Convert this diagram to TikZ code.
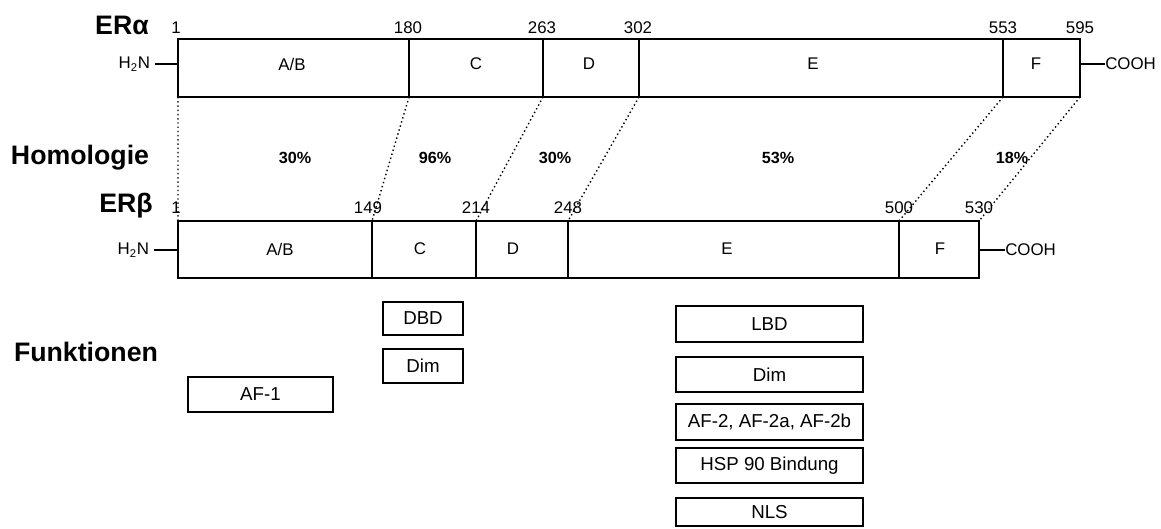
\documentclass[tikz,border=0pt]{standalone}
\usepackage{fontspec}
\setmainfont{Liberation Sans}
\setsansfont{Liberation Sans}
\usetikzlibrary{arrows.meta}
\definecolor{Ink}{HTML}{000000}
\tikzset{
  bar/.style={draw=Ink,line width=1.4pt},
  funcbox/.style={draw=Ink,line width=1.1pt,inner sep=0pt,font=\fontsize{13.3}{15}\selectfont},
  pct/.style={font=\bfseries\fontsize{11.5}{13}\selectfont},
  rowlabel/.style={font=\bfseries\fontsize{19}{22}\selectfont},
  homol/.style={Ink,dotted,line width=1pt}
}

\begin{document}
\begin{tikzpicture}[x=0.025cm,y=-0.025cm,>=Latex,every node/.style={text=Ink,font=\fontsize{12}{14}\selectfont}]
\useasboundingbox[fill=white] (0,0) rectangle (1161,528);
\node[rowlabel] (era) at (122,25){ERα};
\node[rowlabel] (erb) at (126,206){ERβ};
\node[rowlabel] (homologie) at (80,158){Homologie};
\node[rowlabel] (funktionen) at (86,352){Funktionen};
\coordinate (a0) at (178,97);\coordinate (a1) at (409,97);\coordinate (a2) at (543,97);
\coordinate (a3) at (639,97);\coordinate (a4) at (1003,97);\coordinate (a5) at (1080,97);
\coordinate (b0) at (178,221);\coordinate (b1) at (372,221);\coordinate (b2) at (476,221);
\coordinate (b3) at (568,221);\coordinate (b4) at (899,221);\coordinate (b5) at (979,221);
\draw[bar] (178,39) rectangle (a5);
\draw[bar] (a1)--++(0,-58) (a2)--++(0,-58) (a3)--++(0,-58) (a4)--++(0,-58);
\draw[bar] (b0) rectangle (979,278);
\draw[bar] (b1)--++(0,57) (b2)--++(0,57) (b3)--++(0,57) (b4)--++(0,57);
\node (na0) at (176,28){1};\node (na1) at (408,28){180};\node (na2) at (542,28){263};
\node (na3) at (638,28){302};\node (na4) at (1003,28){553};\node (na5) at (1080,28){595};
\node (nb0) at (176,208){1};\node (nb1) at (368,208){149};\node (nb2) at (476,208){214};
\node (nb3) at (568,208){248};\node (nb4) at (899,208){500};\node (nb5) at (979,208){530};
\node (aab) at (292,64){A/B};\node (ac) at (476,64){C};\node (ad) at (589,64){D};
\node (ae) at (813,64){E};\node (af) at (1036,64){F};
\node (bab) at (280,249){A/B};\node (bc) at (420,249){C};\node (bd) at (513,249){D};
\node (be) at (727,249){E};\node (bf) at (940,249){F};
\node[anchor=east] (hna) at (155,64){H\textsubscript{2}N};
\node[anchor=east] (hnb) at (154,250){H\textsubscript{2}N};
\node[anchor=west,inner sep=0pt] (cooha) at (1105,64){COOH};
\node[anchor=west,inner sep=0pt] (coohb) at (1005,250){COOH};
\coordinate (hna-end) at (178,64);\coordinate (hnb-end) at (178,250);
\coordinate (cooha-start) at (1080,64);\coordinate (coohb-start) at (979,250);
\draw[Ink,line width=1.4pt] (hna.east)--(hna-end) (hnb.east)--(hnb-end);
\draw[Ink,line width=1.4pt] (cooha-start)--(cooha.west) (coohb-start)--(coohb.west);
\draw[homol] (a0)--(b0) (a1)--(b1) (a2)--(b2) (a3)--(b3) (a4)--(b4) (a5)--(b5);
\node[pct] (h1) at (295,158){30\%};\node[pct] (h2) at (435,158){96\%};
\node[pct] (h3) at (555,158){30\%};\node[pct] (h4) at (778,158){53\%};
\node[pct] (h5) at (1012,158){18\%};
\node[funcbox,minimum width=2cm,minimum height=0.825cm] (dbd) at (423,318.5){DBD};
\node[funcbox,minimum width=2cm,minimum height=0.85cm] (dimc) at (423,366){Dim};
\node[funcbox,minimum width=3.625cm,minimum height=0.875cm] (af1) at (260.5,394.5){AF-1};
\node[funcbox,minimum width=4.675cm,minimum height=0.9cm] (lbd) at (769.5,324){LBD};
\node[funcbox,minimum width=4.675cm,minimum height=0.875cm] (dime) at (769.5,374.5){Dim};
\node[funcbox,minimum width=4.675cm,minimum height=0.9cm] (af2) at (769.5,422){AF-2, AF-2a, AF-2b};
\node[funcbox,minimum width=4.675cm,minimum height=0.875cm] (hsp) at (769.5,465.5){HSP 90 Bindung};
\node[funcbox,minimum width=4.675cm,minimum height=0.7cm] (nls) at (769.5,512){NLS};
\end{tikzpicture}
\end{document}
